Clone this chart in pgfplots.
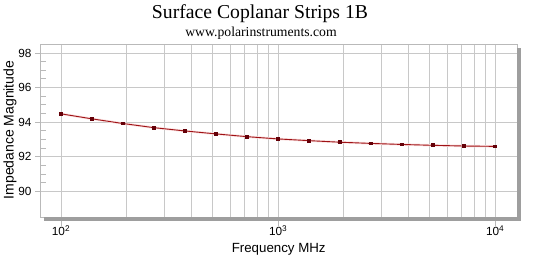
\documentclass[border=0pt]{standalone}
\usepackage{fontspec}
\setmainfont{Liberation Sans}
\newfontfamily\seriffont{Liberation Serif}
\usepackage{pgfplots}
\pgfplotsset{compat=1.18}
\definecolor{gridgray}{RGB}{200,200,200}
\definecolor{framegray}{RGB}{185,185,185}
\definecolor{shadowgray}{RGB}{158,158,158}
\definecolor{linered}{RGB}{158,18,22}
\definecolor{markred}{RGB}{100,0,8}
\definecolor{glow}{RGB}{250,222,222}
\begin{document}
\begin{tikzpicture}[x=1pt,y=1pt]
\path[use as bounding box] (0,0) rectangle (545,257);
\begin{axis}[
  at={(40pt,39.7pt)}, anchor=south west,
  scale only axis, width=477pt, height=173pt,
  xmode=log, xmin=80, xmax=12600,
  ymin=88.5, ymax=98.5,
  ytick={90,92,94,96,98},
  minor y tick num=3,
  xtick={100,1000,10000},
  xticklabels={10\textsuperscript{2},10\textsuperscript{3},10\textsuperscript{4}},
  log ticks with fixed point=false,
  xmajorgrids, xminorgrids, ymajorgrids,
  grid style={draw=gridgray, line width=0.8pt},
  major grid style={draw=gridgray, line width=0.8pt},
  minor grid style={draw=gridgray, line width=0.8pt},
  axis line style={draw=framegray, line width=0.8pt},
  tick align=outside,
  major tick length=5pt,
  minor tick length=6pt,
  tick style={draw=framegray, line width=0.8pt},
  minor y tick style={xshift=6pt},
  minor x tick style={draw=none},
  major x tick style={yshift=-4pt},
  xtick pos=bottom, ytick pos=left,
  ticklabel style={font=\fontsize{11.8}{13}\selectfont},
  /pgf/number format/assume math mode=true,
  clip=false,
]
\addplot[draw=glow, line width=2.4pt, forget plot] coordinates {
(100,94.48) (138.95,94.19) (193.07,93.92) (268.27,93.68) (372.76,93.49)
(517.95,93.32) (719.69,93.16) (1000,93.03) (1389.5,92.93) (1930.7,92.84)
(2682.7,92.77) (3727.6,92.71) (5179.5,92.66) (7196.9,92.62) (10000,92.60)
};
\addplot[draw=linered, line width=0.9pt, mark=square*, mark size=1.4pt,
  mark options={draw=markred, fill=markred}] coordinates {
(100,94.48) (138.95,94.19) (193.07,93.92) (268.27,93.68) (372.76,93.49)
(517.95,93.32) (719.69,93.16) (1000,93.03) (1389.5,92.93) (1930.7,92.84)
(2682.7,92.77) (3727.6,92.71) (5179.5,92.66) (7196.9,92.62) (10000,92.60)
};
\end{axis}
\fill[shadowgray] (517,36.3) rectangle (521,209);
\fill[shadowgray] (44,36.3) rectangle (521,39.7);
\node[anchor=base, inner sep=0pt, font=\seriffont\fontsize{19.7}{22}\selectfont] at (260,238.7) {Surface Coplanar Strips 1B};
\node[anchor=base, inner sep=0pt, font=\seriffont\fontsize{13.7}{15}\selectfont] at (261,220.3) {www.polarinstruments.com};
\node[anchor=base, inner sep=0pt, font=\fontsize{13.3}{15}\selectfont] at (278.7,4.7) {Frequency MHz};
\node[anchor=base, inner sep=0pt, rotate=90, font=\fontsize{14}{16}\selectfont] at (13.5,127) {Impedance Magnitude};
\end{tikzpicture}
\end{document}
